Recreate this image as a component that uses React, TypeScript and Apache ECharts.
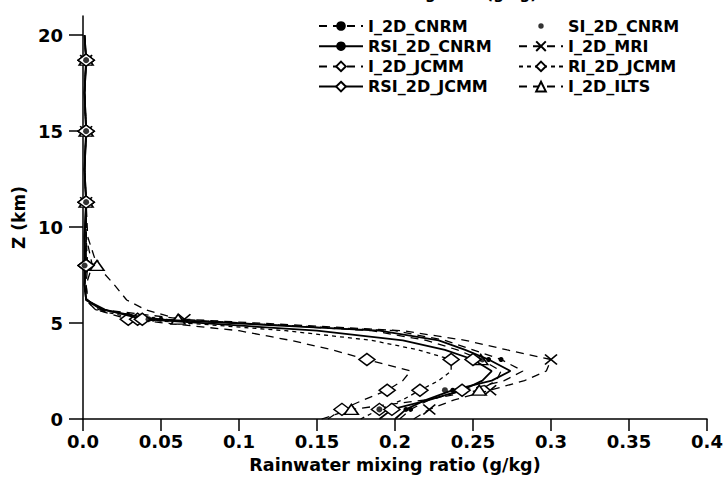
import React, { useEffect, useRef } from "react";
import * as echarts from "echarts";

// ---------- data ----------
const Z_LEVELS = [0, 0.5, 1.0, 1.5, 2.0, 2.5, 3.1, 3.6, 4.1, 4.6, 5.2, 5.7, 6.2, 7.0, 8.0, 9.5, 11.3, 13.0, 15.0, 17.0, 18.7, 20.0];
const MARKER_LEVELS = [0.5, 1.5, 3.1, 5.2, 8.0, 11.3, 15.0, 18.7];

const I_2D_CNRM = [0.203, 0.21, 0.222, 0.245, 0.27, 0.282, 0.268, 0.25, 0.232, 0.2, 0.05, 0.01, 0.003, 0.002, 0.003, 0.002, 0.002, 0.001, 0.002, 0.001, 0.002, 0.001];
const RSI_2D_CNRM = [0.2, 0.207, 0.22, 0.237, 0.262, 0.274, 0.26, 0.245, 0.228, 0.19, 0.045, 0.012, 0.002, 0.001, 0.001, 0.001, 0.002, 0.001, 0.002, 0.001, 0.002, 0.001];
const SI_2D_CNRM = [0.19, 0.232, 0.256, 0.042, 0.001, 0.002, 0.002, 0.002]; // at MARKER_LEVELS
const I_2D_MRI = [0.212, 0.222, 0.238, 0.261, 0.283, 0.297, 0.3, 0.272, 0.245, 0.205, 0.065, 0.012, 0.003, 0.002, 0.006, 0.002, 0.002, 0.001, 0.002, 0.001, 0.002, 0.001];
const I_2D_JCMM = [0.157, 0.166, 0.18, 0.195, 0.205, 0.21, 0.182, 0.16, 0.133, 0.1, 0.029, 0.008, 0.002, 0.001, 0.002, 0.002, 0.002, 0.001, 0.002, 0.001, 0.002, 0.001];
const RI_2D_JCMM = [0.178, 0.19, 0.205, 0.216, 0.228, 0.236, 0.236, 0.215, 0.185, 0.13, 0.035, 0.008, 0.002, 0.001, 0.002, 0.002, 0.002, 0.001, 0.002, 0.001, 0.002, 0.001];
const RSI_2D_JCMM = [0.19, 0.198, 0.222, 0.243, 0.256, 0.262, 0.25, 0.232, 0.205, 0.15, 0.038, 0.014, 0.002, 0.001, 0.002, 0.001, 0.002, 0.001, 0.002, 0.001, 0.002, 0.001];
const I_2D_ILTS = [0.153, 0.172, 0.22, 0.254, 0.265, 0.268, 0.255, 0.24, 0.22, 0.185, 0.061, 0.04, 0.028, 0.02, 0.009, 0.003, 0.002, 0.001, 0.002, 0.001, 0.002, 0.001];

const X_TICKS = [0, 0.05, 0.1, 0.15, 0.2, 0.25, 0.3, 0.35, 0.4];
const X_TICK_LABELS = ["0.0", "0.05", "0.1", "0.15", "0.2", "0.25", "0.3", "0.35", "0.4"];
const Y_TICKS = [0, 5, 10, 15, 20];

const LEGEND_LEFT = ["I_2D_CNRM", "RSI_2D_CNRM", "I_2D_JCMM", "RSI_2D_JCMM"];
const LEGEND_RIGHT = ["SI_2D_CNRM", "I_2D_MRI", "RI_2D_JCMM", "I_2D_ILTS"];

const TITLE = "Rainwater mixing ratio (g/kg)";
const X_NAME = "Rainwater mixing ratio (g/kg)";
const Y_NAME = "Z (km)";

// ---------- helpers ----------
const FONT = "DejaVu Sans";
const X_SYMBOL = "path://M0,0L10,10M10,0L0,10";
const SMALL_DOT = "path://M0,0L0,0M12,12L12,12M6,3.3A2.7,2.7,0,1,1,6,8.7A2.7,2.7,0,1,1,6,3.3Z";

function lineData(values: number[]) {
  return values.map((v, i) => {
    const z = Z_LEVELS[i];
    const isMarker = MARKER_LEVELS.indexOf(z) >= 0;
    return isMarker ? { value: [v, z] } : { value: [v, z], symbol: "none" };
  });
}

function mkLine(
  name: string,
  values: number[],
  dash: any,
  width: number,
  symbol: string,
  symbolSize: any,
  fill: string,
  border: number,
  z: number
) {
  return {
    name,
    type: "line",
    data: lineData(values),
    showAllSymbol: true,
    clip: false,
    symbol,
    symbolSize,
    z,
    lineStyle: { color: "#000", width, type: dash },
    itemStyle: { color: fill, borderColor: "#000", borderWidth: border },
    emphasis: { disabled: true },
  };
}

export default function App() {
  const ref = useRef<HTMLDivElement>(null);

  useEffect(() => {
    if (!ref.current) return;
    const chart = echarts.init(ref.current, null, { renderer: "svg" });

    const legendText = {
      fontFamily: FONT,
      fontSize: 16,
      fontWeight: "bold",
      color: "#000",
      lineHeight: 15,
    };

    const option: any = {
      animation: false,
      backgroundColor: "#fff",
      grid: { left: 83, right: 21, top: 16, bottom: 62, containLabel: false },
      graphic: [
        {
          type: "text",
          right: 191,
          y: 1,
          style: {
            text: TITLE,
            font: `bold 15px "${FONT}"`,
            fill: "#000",
            verticalAlign: "bottom",
          },
        },
      ],
      legend: [
        {
          data: LEGEND_LEFT,
          orient: "vertical",
          left: 313,
          top: 13,
          itemWidth: 44,
          itemHeight: 12,
          itemGap: 4.2,
          textStyle: { ...legendText },
          selectedMode: false,
        },
        {
          data: LEGEND_RIGHT.map((n) => (n === "SI_2D_CNRM" ? { name: n, icon: SMALL_DOT } : n)),
          orient: "vertical",
          left: 513,
          top: 13,
          itemWidth: 44,
          itemHeight: 12,
          itemGap: 4.2,
          textStyle: { ...legendText },
          selectedMode: false,
        },
      ],
      xAxis: {
        type: "value",
        min: 0,
        max: 0.4,
        interval: 0.05,
        name: X_NAME,
        nameLocation: "middle",
        nameGap: 37,
        nameTextStyle: { fontFamily: FONT, fontSize: 17.5, fontWeight: "bold", color: "#000" },
        splitLine: { show: false },
        axisLine: { show: true, onZero: false, lineStyle: { color: "#000", width: 1.5 } },
        axisTick: { show: true, inside: false, length: 12, lineStyle: { color: "#000", width: 1.5 } },
        axisLabel: {
          margin: 13,
          fontFamily: FONT,
          fontSize: 18,
          fontWeight: "bold",
          color: "#000",
          formatter: (v: number) => {
            const k = X_TICKS.findIndex((t) => Math.abs(t - v) < 1e-9);
            return k >= 0 ? X_TICK_LABELS[k] : "";
          },
        },
      },
      yAxis: {
        type: "value",
        min: 0,
        max: 21,
        interval: 5,
        name: Y_NAME,
        nameLocation: "middle",
        nameGap: 53,
        nameRotate: 90,
        nameTextStyle: { fontFamily: FONT, fontSize: 17, fontWeight: "bold", color: "#000" },
        splitLine: { show: false },
        axisLine: { show: true, onZero: false, lineStyle: { color: "#000", width: 1.5 } },
        axisTick: { show: true, inside: false, length: 14, customValues: Y_TICKS, lineStyle: { color: "#000", width: 1.5 } },
        axisLabel: {
          margin: 20,
          customValues: Y_TICKS,
          fontFamily: FONT,
          fontSize: 18,
          fontWeight: "bold",
          color: "#000",
        },
      },
      series: [
        mkLine("I_2D_CNRM", I_2D_CNRM, [8, 6], 1.3, "circle", 5, "#000", 0, 3),
        {
          name: "SI_2D_CNRM",
          type: "scatter",
          data: SI_2D_CNRM.map((v, i) => [v, MARKER_LEVELS[i]]),
          symbol: "circle",
          symbolSize: 6,
          clip: false,
          z: 5,
          itemStyle: { color: "#000" },
          emphasis: { disabled: true },
        },
        mkLine("RSI_2D_CNRM", RSI_2D_CNRM, "solid", 1.8, "circle", 5, "#000", 0, 4),
        mkLine("I_2D_MRI", I_2D_MRI, [8, 6], 1.3, X_SYMBOL, [12, 10], "none", 1.6, 3),
        mkLine("I_2D_JCMM", I_2D_JCMM, [8, 6], 1.3, "diamond", [16, 12], "#fff", 1.5, 3),
        mkLine("RI_2D_JCMM", RI_2D_JCMM, [4, 4], 1.3, "diamond", [16, 12], "#fff", 1.5, 3),
        mkLine("RSI_2D_JCMM", RSI_2D_JCMM, "solid", 1.8, "diamond", [16, 12], "#fff", 1.5, 4),
        mkLine("I_2D_ILTS", I_2D_ILTS, [8, 6], 1.3, "triangle", [14, 10], "#fff", 1.5, 3),
      ],
    };

    chart.setOption(option);
    return () => chart.dispose();
  }, []);

  return (
    <div
      ref={ref}
      style={{ position: "fixed", left: 0, top: 0, width: 728, height: 481, background: "#fff" }}
    />
  );
}
